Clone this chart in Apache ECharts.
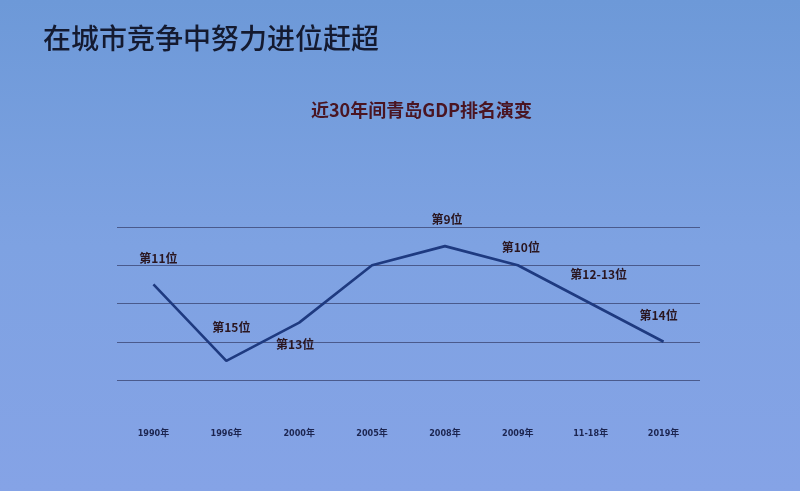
<!DOCTYPE html>
<html><head><meta charset="utf-8">
<script src="https://cdn.jsdelivr.net/npm/echarts@6/dist/echarts.min.js"></script>
<style>html,body{margin:0;padding:0;}#c{width:800px;height:491px;}</style>
</head><body><div id="c"></div>
<script>
const categories = ['1990年','1996年','2000年','2005年','2008年','2009年','11-18年','2019年'];
const ranks = [11, 15, 13, 10, 9, 10, 12, 14];
const rankLabels = ['第11位','第15位','第13位','','第9位','第10位','第12-13位','第14位'];
const yTicks = [8, 10, 12, 14, 16];

// label placement tweaks (style only)
const labelShift = [[5,0],[5,-7],[-4,48],[0,0],[2,-1],[3,8],[8,-3],[-5,0]];

const chart = echarts.init(document.getElementById('c'));
chart.setOption({
  backgroundColor: {type:'linear', x:0, y:0, x2:0, y2:1, colorStops:[
    {offset:0, color:'#6d99d8'}, {offset:0.5, color:'#7ea2e2'}, {offset:1, color:'#85a3e6'}]},
  title: [
    {text:'在城市竞争中努力进位赶超', left:38, top:19,
     textStyle:{fontFamily:'Noto Sans CJK SC', fontSize:28, fontWeight:500, color:'#141a30'}},
    {text:'近30年间青岛GDP排名演变', left:306, top:96,
     textStyle:{fontFamily:'Noto Sans CJK SC', fontSize:18, fontWeight:'bold', color:'#4a1522'}}
  ],
  grid: {left:117, right:100, top:227, bottom:111},
  xAxis: {type:'category', data:categories, boundaryGap:true,
    axisLine:{show:false}, axisTick:{show:false},
    axisLabel:{margin:49, fontSize:9, color:'#1c2550', fontWeight:'bold', fontFamily:'Liberation Sans Narrow, DejaVu Sans Condensed, Noto Sans CJK SC'}},
  yAxis: {type:'value', inverse:true, min:yTicks[0], max:yTicks[yTicks.length-1], interval:2,
    axisLabel:{show:false}, axisLine:{show:false}, axisTick:{show:false},
    splitLine:{lineStyle:{color:'#4a5a8c', width:1.2}}},
  series: [{
    type:'line',
    data: ranks,
    symbol:'circle', symbolSize:0,
    lineStyle:{color:'#1e3a80', width:2.6},
    itemStyle:{color:'#1e3a80'},
    label:{show:true, position:'top', distance:20,
      formatter:(p)=>rankLabels[p.dataIndex],
      fontSize:12, fontWeight:'bold', color:'#2a1620', fontFamily:'Noto Sans CJK SC'},
    labelLayout:(p)=>({dx:labelShift[p.dataIndex][0], dy:labelShift[p.dataIndex][1], hideOverlap:false}),
    emphasis:{disabled:true},
    animation:false
  }],
  animation:false
});
</script>
</body></html>
